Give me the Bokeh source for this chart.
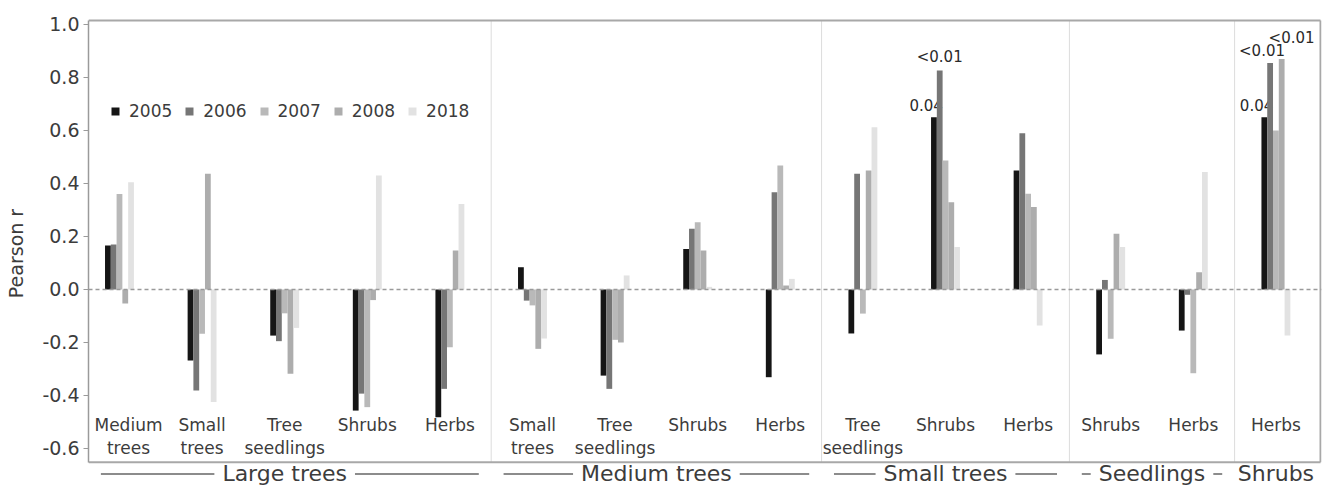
import numpy as np
from bokeh.plotting import figure
from bokeh.models import Range1d, FixedTicker, NumeralTickFormatter, Legend, LegendItem, Span
from bokeh.core.properties import value
from bokeh.embed import file_html
from bokeh.resources import INLINE

# ---------------- data ----------------
group_labels = ["Large trees", "Medium trees", "Small trees", "Seedlings", "Shrubs"]
group_sizes = [5, 4, 3, 2, 1]
categories = ["Medium\ntrees", "Small\ntrees", "Tree\nseedlings", "Shrubs", "Herbs",
              "Small\ntrees", "Tree\nseedlings", "Shrubs", "Herbs",
              "Tree\nseedlings", "Shrubs", "Herbs",
              "Shrubs", "Herbs",
              "Herbs"]
years = ["2005", "2006", "2007", "2008", "2018"]
r_2005 = [0.166, -0.268, -0.174, -0.457, -0.482, 0.084, -0.325, 0.153, -0.331, -0.166, 0.650, 0.449, -0.245, -0.155, 0.650]
r_2006 = [0.170, -0.381, -0.195, -0.393, -0.375, -0.042, -0.375, 0.229, 0.367, 0.437, 0.826, 0.590, 0.036, -0.020, 0.855]
r_2007 = [0.360, -0.167, -0.090, -0.444, -0.218, -0.060, -0.190, 0.254, 0.468, -0.091, 0.487, 0.361, -0.186, -0.316, 0.600]
r_2008 = [-0.053, 0.437, -0.318, -0.040, 0.147, -0.224, -0.200, 0.147, 0.015, 0.449, 0.329, 0.311, 0.210, 0.065, 0.870]
r_2018 = [0.405, -0.425, -0.145, 0.430, 0.323, -0.185, 0.053, 0.010, 0.040, 0.612, 0.160, -0.136, 0.160, 0.443, -0.174]
series = [r_2005, r_2006, r_2007, r_2008, r_2018]

# p-value annotations: category index, year index, text
p_cat = [10, 10, 14, 14, 14]
p_year = [0, 1, 0, 1, 3]
p_text = ["0.04", "<0.01", "0.04", "<0.01", "<0.01"]

# ---------------- style ----------------
colors = ["#151515", "#767676", "#b9b9b9", "#adadad", "#e2e2e2"]
p_align = ["right", "center", "right", "right", "right"]
p_dx = [6, 0, 6, 12, 30]
p_dy = [-6, -5, -6, -3, -12]
cat_dx = [9] + [0] * 14
FONT = "DejaVu Sans"
TXT = "#3c3c3c"
bw = 0.07
X0, X1 = -0.375, 14.552
BOX_L, BOX_R, BOX_B, BOX_T = X0, 14.54, -0.652, 1.015

p = figure(width=1326, height=488,
           x_range=Range1d(X0, X1), y_range=Range1d(-0.751, 1.0226),
           output_backend="svg", toolbar_location=None, x_axis_type=None,
           min_border_left=88, min_border_right=5, min_border_top=18, min_border_bottom=0)
p.outline_line_color = None
p.grid.visible = False
p.background_fill_color = "white"

ya = p.yaxis[0]
ya.ticker = FixedTicker(ticks=[-0.6, -0.4, -0.2, 0.0, 0.2, 0.4, 0.6, 0.8, 1.0])
ya.formatter = NumeralTickFormatter(format="0.0")
ya.bounds = (BOX_B, BOX_T)
ya.axis_line_color = "#9a9a9a"
ya.axis_line_width = 1.5
ya.major_tick_line_color = "#9a9a9a"
ya.major_tick_out = 5
ya.major_tick_in = 0
ya.minor_tick_line_color = None
ya.major_label_standoff = 4
ya.major_label_text_font = FONT
ya.major_label_text_font_size = "19px"
ya.major_label_text_color = TXT
ya.axis_label = "Pearson r"
ya.axis_label_text_font = FONT
ya.axis_label_text_font_size = "19px"
ya.axis_label_text_font_style = "normal"
ya.axis_label_text_color = TXT
ya.axis_label_standoff = 12

ncat = len(categories)
xc = np.arange(ncat)

# group extents
starts = np.cumsum([0] + group_sizes[:-1]) - 0.5
ends = np.cumsum(group_sizes) - 0.5
centers = (starts + ends) / 2.0

# group label lines + labels (below box)
gl_y = -0.696
m = 0.15
x0s = np.maximum(starts, BOX_L) + m
x1s = np.minimum(ends, BOX_R) - m
p.segment(x0=x0s, y0=gl_y, x1=x1s, y1=gl_y, line_color="#8c8c8c", line_width=2)
p.text(x=centers, y=gl_y, text=group_labels, text_align="center", text_baseline="middle",
       text_font=value(FONT), text_font_size="22px", text_color=TXT,
       background_fill_color="white", padding=dict(left=8, right=8, top=0, bottom=0))

# p-value labels (drawn under the bars, as in the original)
for i in range(len(p_cat)):
    j = p_year[i]
    xb = p_cat[i] + (j - 2) * bw
    if p_align[i] == "right":
        xb += bw / 2
    elif p_align[i] == "left":
        xb -= bw / 2
    p.text(x=[xb], y=[series[j][p_cat[i]]], text=[p_text[i]], text_align=p_align[i],
           text_baseline="bottom", x_offset=p_dx[i], y_offset=p_dy[i],
           text_font=value(FONT), text_font_size="15px", text_color="#2a2a2a")

# bars
renderers = []
for j, (yr, vals) in enumerate(zip(years, series)):
    r = p.vbar(x=xc + (j - 2) * bw, width=bw, top=vals, bottom=0,
               fill_color=colors[j], line_color=None)
    renderers.append(r)

# separators
p.segment(x0=ends[:-1], y0=BOX_B, x1=ends[:-1], y1=BOX_T, line_color="#dcdcdc", line_width=1)

# category labels inside the box
p.text(x=xc, y=-0.472, text=categories, text_align="center", text_baseline="top",
       x_offset=cat_dx,
       text_font=value(FONT), text_font_size="17px", text_color=TXT, text_line_height=1.16)

# box (top, right, bottom)
p.segment(x0=[BOX_L, BOX_R, BOX_L], y0=[BOX_T, BOX_B, BOX_B],
          x1=[BOX_R, BOX_R, BOX_R], y1=[BOX_T, BOX_T, BOX_B],
          line_color="#a8a8a8", line_width=2)

# zero line
p.add_layout(Span(location=0, dimension="width", line_color="#9a9a9a", line_width=1.5, line_dash="4 3"))

legend = Legend(items=[LegendItem(label=yr, renderers=[r]) for yr, r in zip(years, renderers)],
                orientation="horizontal", location=(22, 367),
                glyph_width=10, glyph_height=10, label_standoff=9, spacing=12,
                padding=0, margin=0, border_line_color=None, background_fill_alpha=0,
                label_text_font=FONT, label_text_font_size="17px", label_text_color=TXT)
p.add_layout(legend)

open("out.html", "w").write(file_html(p, INLINE))
